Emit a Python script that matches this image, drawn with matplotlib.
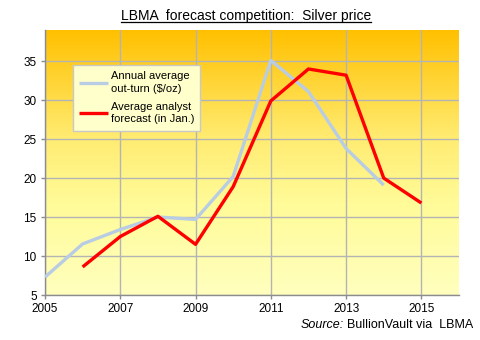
import numpy as np
import matplotlib
matplotlib.use("Agg")
import matplotlib.pyplot as plt
from matplotlib.colors import LinearSegmentedColormap
from matplotlib.lines import Line2D

plt.rcParams['font.family'] = ['Liberation Sans', 'DejaVu Sans']

# Silver: annual average price vs. January analyst forecast ($/oz)
years_actual = [2005, 2006, 2007, 2008, 2009, 2010, 2011, 2012, 2013, 2014]
actual = [7.3, 11.55, 13.4, 15.0, 14.7, 20.2, 35.1, 31.1, 23.8, 19.1]

years_forecast = [2006, 2007, 2008, 2009, 2010, 2011, 2012, 2013, 2014, 2015]
forecast = [8.6, 12.5, 15.1, 11.5, 18.9, 29.9, 34.0, 33.2, 20.0, 16.8]

xticks = [2005, 2007, 2009, 2011, 2013, 2015]
yticks = [5, 10, 15, 20, 25, 30, 35]

fig = plt.figure(figsize=(4.8, 3.4), dpi=100)
ax = fig.add_axes([45 / 480, 1 - 295 / 340, 414 / 480, 265 / 340])

x0, x1, y0, y1 = 2005, 2016, 5, 39
ax.set_xlim(x0, x1)
ax.set_ylim(y0, y1)

# orange-to-cream vertical gradient behind the plot
grad = LinearSegmentedColormap.from_list(
    'bg', [(0.0, '#FFFFBE'), (0.35, '#FFFB98'), (0.6, '#FFEB70'), (1.0, '#FFC000')])
ax.imshow(np.linspace(0, 1, 256).reshape(-1, 1), cmap=grad, aspect='auto',
          extent=[x0, x1, y0, y1], origin='lower', zorder=0)

ax.set_xticks(xticks)
ax.set_yticks(yticks)
ax.grid(True, color='#B4B4B4', linewidth=1.0, zorder=1)
ax.set_axisbelow(True)
for s in ['top', 'right']:
    ax.spines[s].set_visible(False)
for s in ['left', 'bottom']:
    ax.spines[s].set_color('#8C8C8C')
    ax.spines[s].set_linewidth(1.0)
ax.tick_params(axis='both', length=3, width=1, color='#8C8C8C',
               labelsize=8.5, pad=3, labelcolor='#000000')

ax.plot(years_actual, actual, color='#B8CCE4', linewidth=2.4, zorder=3,
        solid_capstyle='butt', label='Annual average\nout-turn ($/oz)')
ax.plot(years_forecast, forecast, color='#FF0000', linewidth=2.4, zorder=4,
        solid_capstyle='butt', label='Average analyst\nforecast (in Jan.)')

leg = ax.legend(loc='upper left', bbox_to_anchor=(28 / 414, 230 / 265),
                fontsize=8, frameon=True, fancybox=False, framealpha=1,
                facecolor='#FFFFCC', edgecolor='#C8C8C8', handlelength=2.6,
                handletextpad=0.25, labelspacing=0.7, borderpad=0.55,
                borderaxespad=0)
leg.get_frame().set_linewidth(1.0)
for t in leg.get_texts():
    t.set_linespacing(1.35)

title = fig.text(246 / 480, 1 - 16 / 340, 'LBMA  forecast competition:  Silver price',
                 ha='center', va='center', fontsize=10)
fig.canvas.draw()
bb = title.get_window_extent().transformed(fig.transFigure.inverted())
fig.add_artist(Line2D([bb.x0, bb.x1], [bb.y0 + 0.004, bb.y0 + 0.004],
                      transform=fig.transFigure, color='black', linewidth=0.9))

src = fig.text(473 / 480, 1 - 325 / 340, 'BullionVault via  LBMA', ha='right',
               va='center', fontsize=9)
fig.canvas.draw()
sb = src.get_window_extent().transformed(fig.transFigure.inverted())
fig.text(sb.x0 - 0.006, 1 - 325 / 340, 'Source:', ha='right', va='center',
         fontsize=9, style='italic')

fig.savefig('out.png', dpi=100)
